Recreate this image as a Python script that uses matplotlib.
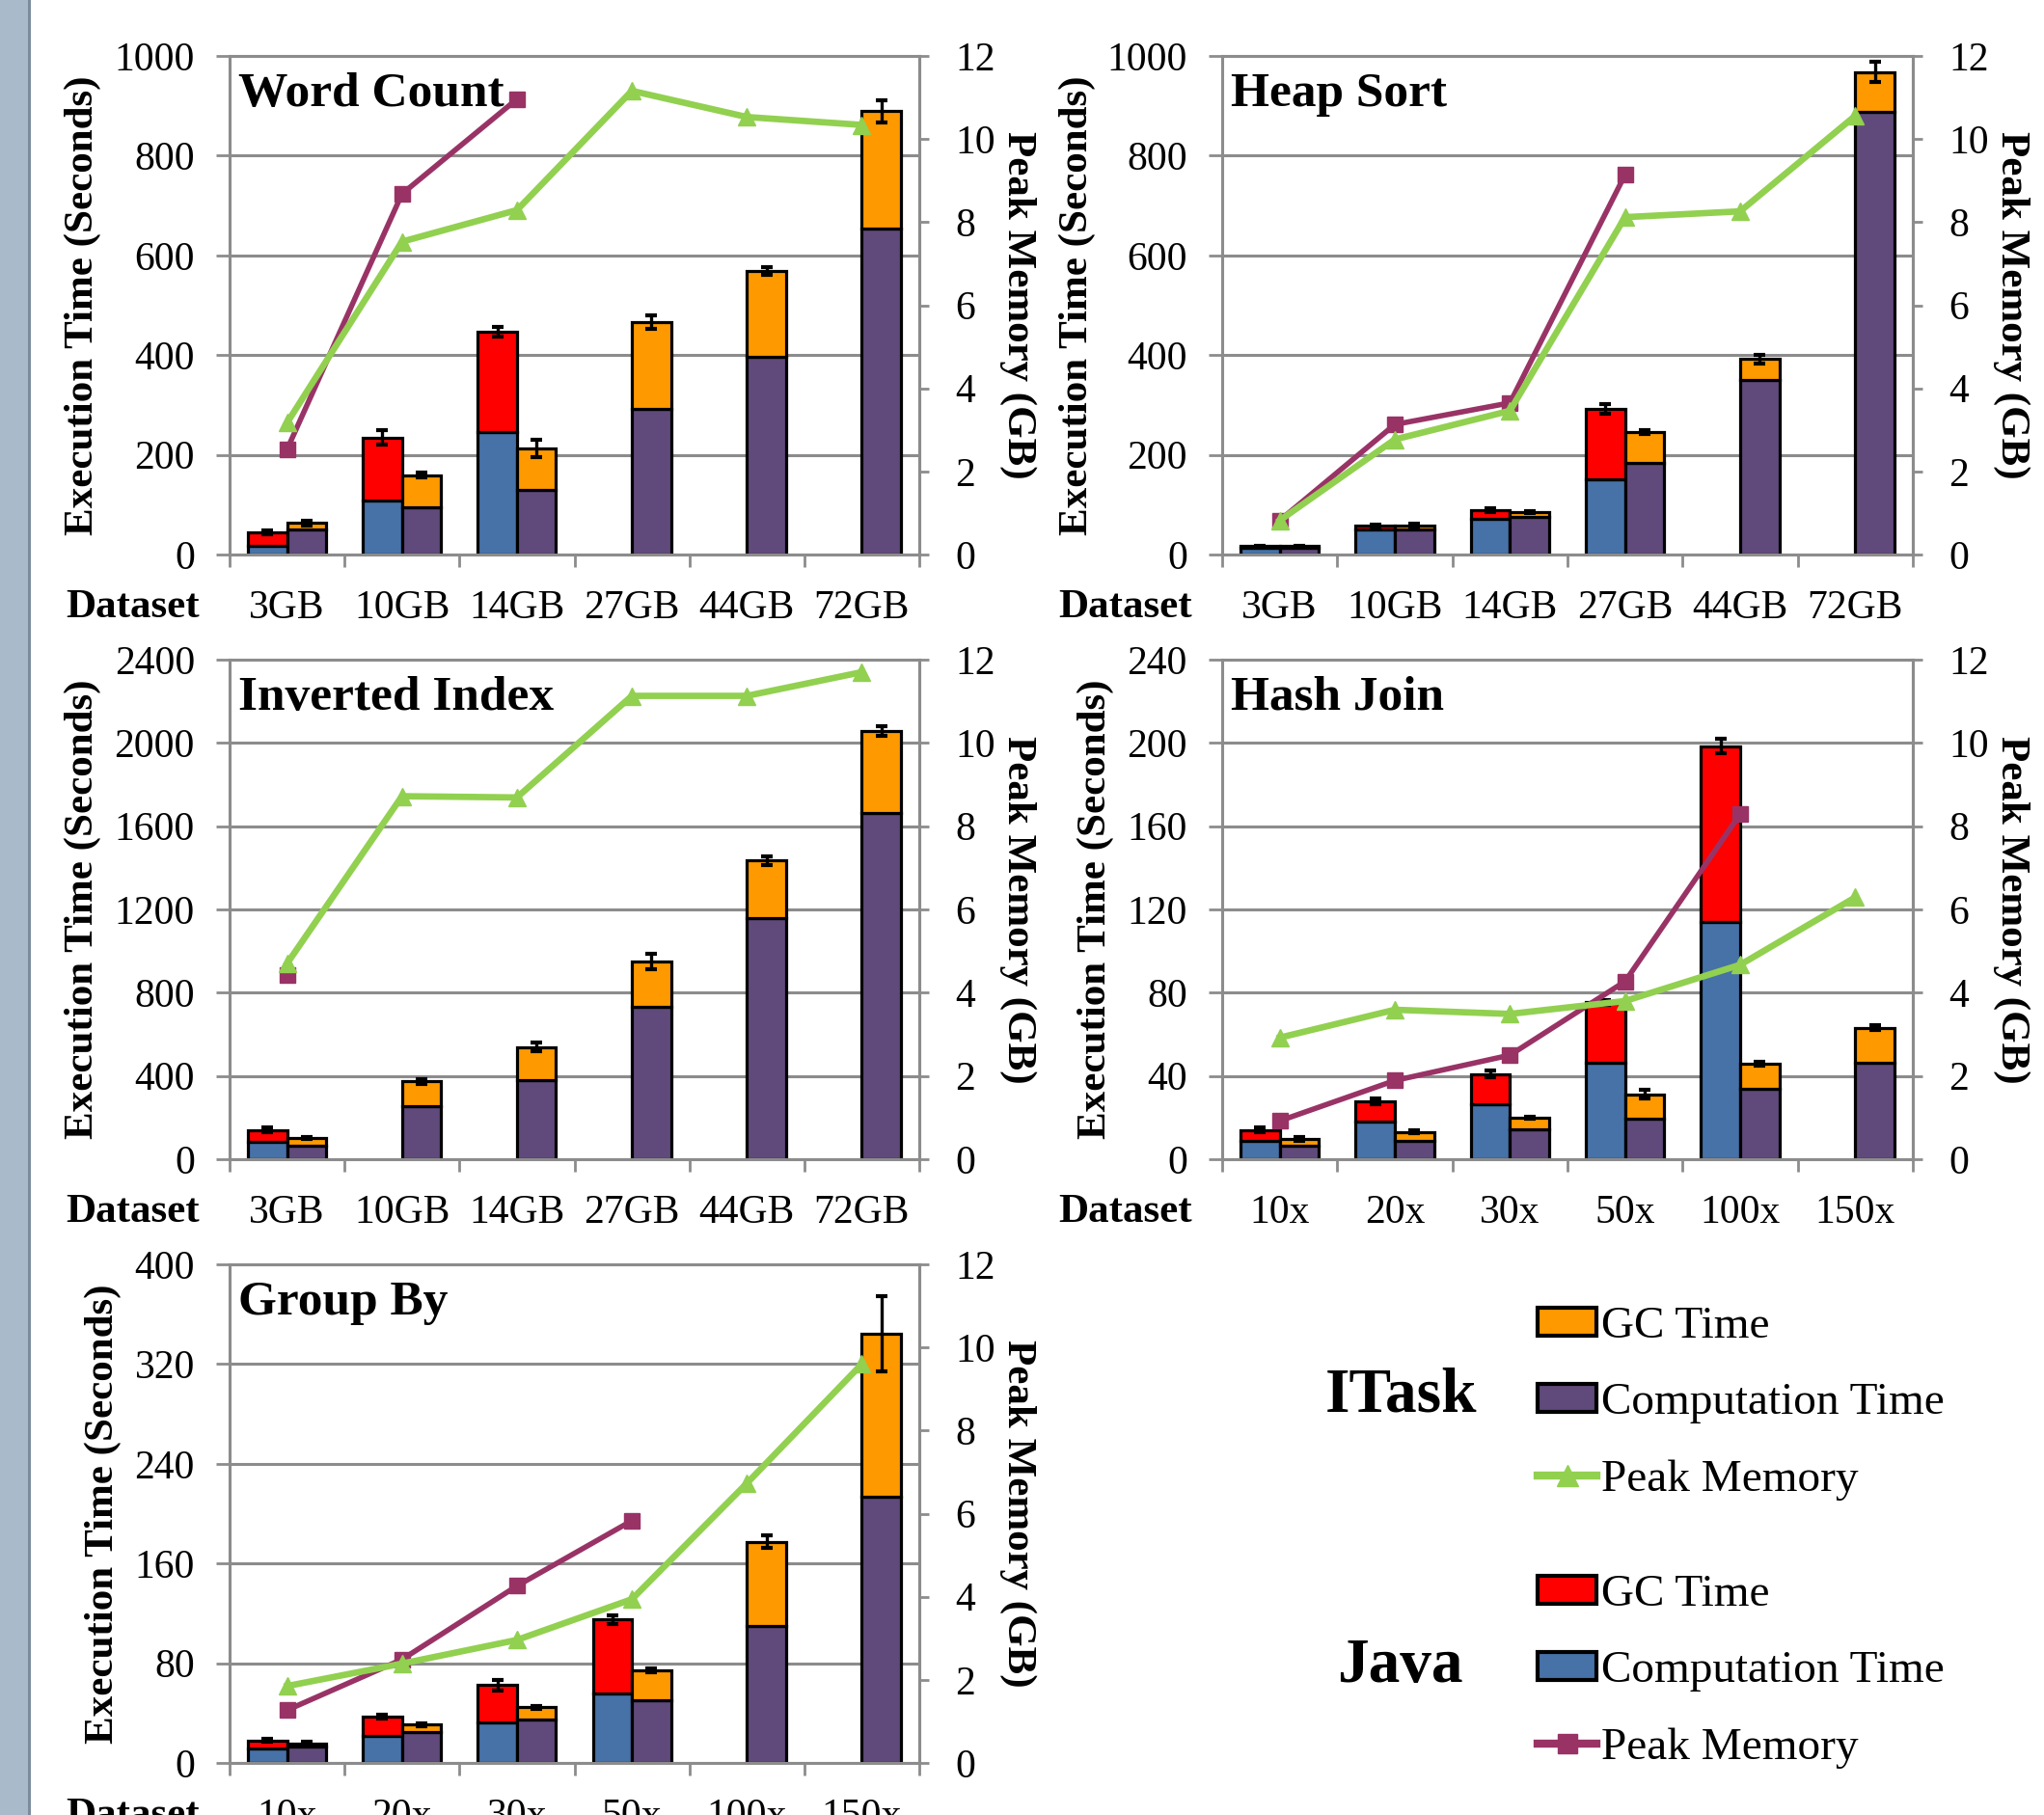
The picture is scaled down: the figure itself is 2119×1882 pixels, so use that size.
import numpy as np
import matplotlib
matplotlib.use('Agg')
import matplotlib.pyplot as plt
import matplotlib.transforms as mtransforms
from matplotlib.patches import Patch, Rectangle
from matplotlib.lines import Line2D

plt.rcParams['font.family'] = ['Liberation Serif', 'DejaVu Serif']

# ---- data ----
gb_cats = ['3GB', '10GB', '14GB', '27GB', '44GB', '72GB']
x_cats = ['10x', '20x', '30x', '50x', '100x', '150x']

# Word Count
wc_java_comp = [17, 108, 245, None, None, None]
wc_java_gc = [28, 127, 202, None, None, None]
wc_java_err = [4, 15, 10, None, None, None]
wc_itask_comp = [51, 95, 130, 292, 396, 653]
wc_itask_gc = [12, 64, 83, 174, 172, 236]
wc_itask_err = [5, 5, 18, 13, 8, 22]
wc_java_mem = [2.53, 8.68, 10.96, None, None, None]
wc_itask_mem = [3.17, 7.53, 8.29, 11.16, 10.53, 10.34]

# Heap Sort
hs_java_comp = [13, 50, 71, 150, None, None]
hs_java_gc = [4, 8, 18, 142, None, None]
hs_java_err = [1, 2, 3, 9, None, None]
hs_itask_comp = [13, 51, 75, 184, 350, 888]
hs_itask_gc = [4, 7, 10, 62, 42, 80]
hs_itask_err = [1, 3, 2, 4, 9, 20]
hs_java_mem = [0.82, 3.13, 3.65, 9.14, None, None]
hs_itask_mem = [0.82, 2.77, 3.46, 8.12, 8.26, 10.56]

# Inverted Index
ii_java_comp = [83, None, None, None, None, None]
ii_java_gc = [57, None, None, None, None, None]
ii_java_err = [12, None, None, None, None, None]
ii_itask_comp = [66, 253, 382, 732, 1157, 1664]
ii_itask_gc = [36, 120, 157, 217, 278, 392]
ii_itask_err = [6, 10, 22, 36, 20, 22]
ii_java_mem = [4.42, None, None, None, None, None]
ii_itask_mem = [4.70, 8.72, 8.69, 11.13, 11.13, 11.70]

# Hash Join
hj_java_comp = [8.9, 18.3, 26.5, 46.3, 114.2, None]
hj_java_gc = [5.1, 9.5, 14.5, 29.0, 84.2, None]
hj_java_err = [1.2, 1.2, 1.8, 1.0, 3.5, None]
hj_itask_comp = [6.6, 8.9, 14.2, 19.3, 33.9, 46.3]
hj_itask_gc = [3.2, 4.3, 5.7, 11.9, 11.9, 16.9]
hj_itask_err = [0.8, 0.8, 0.6, 2.0, 0.8, 1.0]
hj_java_mem = [0.92, 1.89, 2.50, 4.27, 8.29, None]
hj_itask_mem = [2.92, 3.59, 3.49, 3.80, 4.67, 6.29]

# Group By
gby_java_comp = [11.3, 21.7, 32.6, 55.8, None, None]
gby_java_gc = [6.8, 15.4, 29.7, 59.3, None, None]
gby_java_err = [1.0, 1.5, 4.0, 3.5, None, None]
gby_itask_comp = [12.8, 24.6, 35.0, 50.4, 110.0, 213.6]
gby_itask_gc = [2.9, 6.0, 9.5, 24.1, 67.4, 130.6]
gby_itask_err = [1.5, 1.0, 1.0, 1.5, 5.0, 30.0]
gby_java_mem = [1.27, 2.49, 4.26, 5.83, None, None]
gby_itask_mem = [1.85, 2.39, 2.96, 3.94, 6.73, 9.60]

# ---- style ----
W, H, DPI = 2119, 1882, 100
ORANGE = '#FF9900'
PURPLE = '#604A7B'
RED = '#FF0000'
BLUE = '#4672A8'
GREEN = '#92D050'
MAROON = '#993366'
GRAY = '#8C8C8C'
OFF, BW = 0.17, 0.34
TICK_PAD = 26


def px_rect(l, t, r, b):
    return [l / W, 1 - b / H, (r - l) / W, (b - t) / H]


def arr(v):
    return np.array(v, dtype=float)


def draw_panel(ax, cats, jc, jg, je, ic, ig, ie, jm, im, ymax, ystep, title, lab_px):
    x = np.arange(len(cats))
    jc, jg, je, ic, ig, ie = map(arr, (jc, jg, je, ic, ig, ie))
    ok = ~np.isnan(jc)
    ax.bar(x[ok] - OFF, jc[ok], BW, color=BLUE, edgecolor='black', lw=2.3, zorder=2)
    ax.bar(x[ok] - OFF, jg[ok], BW, bottom=jc[ok], color=RED, edgecolor='black', lw=2.3, zorder=2)
    ax.errorbar(x[ok] - OFF, (jc + jg)[ok], yerr=je[ok], fmt='none', ecolor='black',
                elinewidth=2.4, capsize=4.3, capthick=3, zorder=3)
    ok = ~np.isnan(ic)
    ax.bar(x[ok] + OFF, ic[ok], BW, color=PURPLE, edgecolor='black', lw=2.3, zorder=2)
    ax.bar(x[ok] + OFF, ig[ok], BW, bottom=ic[ok], color=ORANGE, edgecolor='black', lw=2.3, zorder=2)
    ax.errorbar(x[ok] + OFF, (ic + ig)[ok], yerr=ie[ok], fmt='none', ecolor='black',
                elinewidth=2.4, capsize=4.3, capthick=3, zorder=3)

    ax.set_xlim(-0.5, len(cats) - 0.5)
    ax.set_ylim(0, ymax)
    ax.set_yticks(np.arange(0, ymax + 1, ystep))
    ax.yaxis.grid(True, color=GRAY, lw=2.2)
    ax.set_axisbelow(True)
    ax.set_xticks(np.arange(-0.5, len(cats), 1))
    ax.set_xticklabels([])
    ax.set_xticks(x, cats, minor=True)
    ax.tick_params(axis='x', which='major', direction='out', length=9, width=2, color=GRAY)
    ax.tick_params(axis='x', which='minor', length=0, labelsize=30, pad=TICK_PAD)
    ax.tick_params(axis='y', direction='out', length=10, width=2, color=GRAY,
                   labelsize=30, pad=16)
    for s in ax.spines.values():
        s.set_color(GRAY)
        s.set_linewidth(2.2)

    ax.set_ylabel('Execution Time (Seconds)', fontsize=31, fontweight='bold')
    ax.yaxis.set_label_coords(-lab_px / 715.0, 0.5)
    ax.yaxis.label.set_va('center')

    ax.text(0.012, 0.923, title, transform=ax.transAxes, fontsize=37,
            fontweight='bold', va='center', ha='left')
    tr = mtransforms.offset_copy(ax.transAxes, fig=ax.figure, y=-TICK_PAD, units='points')
    ax.text(-31 / 715.0, 0, 'Dataset', transform=tr, fontsize=31, fontweight='bold',
            ha='right', va='top')

    tw = ax.twinx()
    tw.plot(x, arr(jm), color=MAROON, lw=4, marker='s', ms=11.5, zorder=4)
    tw.plot(x, arr(im), color=GREEN, lw=4.8, marker='^', ms=13.5, zorder=5)
    tw.set_ylim(0, 12)
    tw.set_yticks(np.arange(0, 13, 2))
    tw.tick_params(axis='y', direction='out', length=7, width=2, color=GRAY,
                   labelsize=30, pad=20)
    for k, s in tw.spines.items():
        s.set_visible(k == 'right')
        s.set_color(GRAY)
        s.set_linewidth(2.2)
    tw.set_ylabel('Peak Memory (GB)', fontsize=31, fontweight='bold', rotation=270)
    tw.yaxis.set_label_coords(1 + 102 / 715.0, 0.5)
    tw.yaxis.label.set_va('center')


fig = plt.figure(figsize=(W / DPI, H / DPI), dpi=DPI)
fig.patch.set_facecolor('white')

# grey strip on the left edge
fig.add_artist(Rectangle((0, 0), 32 / W, 1, transform=fig.transFigure,
                         facecolor='#A9BACB', edgecolor='none'))
fig.add_artist(Rectangle((29 / W, 0), 3 / W, 1, transform=fig.transFigure,
                         facecolor='#7D8C9C', edgecolor='none'))

ax1 = fig.add_axes(px_rect(238, 58, 953, 575))
draw_panel(ax1, gb_cats, wc_java_comp, wc_java_gc, wc_java_err, wc_itask_comp,
           wc_itask_gc, wc_itask_err, wc_java_mem, wc_itask_mem, 1000, 200,
           'Word Count', 152)

ax2 = fig.add_axes(px_rect(1267, 58, 1983, 575))
draw_panel(ax2, gb_cats, hs_java_comp, hs_java_gc, hs_java_err, hs_itask_comp,
           hs_itask_gc, hs_itask_err, hs_java_mem, hs_itask_mem, 1000, 200,
           'Heap Sort', 150)

ax3 = fig.add_axes(px_rect(238, 684, 953, 1202))
draw_panel(ax3, gb_cats, ii_java_comp, ii_java_gc, ii_java_err, ii_itask_comp,
           ii_itask_gc, ii_itask_err, ii_java_mem, ii_itask_mem, 2400, 400,
           'Inverted Index', 152)

ax4 = fig.add_axes(px_rect(1267, 684, 1983, 1202))
draw_panel(ax4, x_cats, hj_java_comp, hj_java_gc, hj_java_err, hj_itask_comp,
           hj_itask_gc, hj_itask_err, hj_java_mem, hj_itask_mem, 240, 40,
           'Hash Join', 131)

ax5 = fig.add_axes(px_rect(238, 1311, 953, 1828))
draw_panel(ax5, x_cats, gby_java_comp, gby_java_gc, gby_java_err, gby_itask_comp,
           gby_itask_gc, gby_itask_err, gby_java_mem, gby_itask_mem, 400, 80,
           'Group By', 131)

# ---- legends ----
leg_kw = dict(loc='center left', frameon=False, fontsize=34, borderpad=0,
              borderaxespad=0, handlelength=1.3, handleheight=0.57,
              handletextpad=0.1, labelspacing=0.78, numpoints=1)
itask_handles = [Patch(facecolor=ORANGE, edgecolor='black', lw=3),
                 Patch(facecolor=PURPLE, edgecolor='black', lw=3),
                 Line2D([], [], color=GREEN, lw=6, marker='^', ms=16)]
java_handles = [Patch(facecolor=RED, edgecolor='black', lw=3),
                Patch(facecolor=BLUE, edgecolor='black', lw=3),
                Line2D([], [], color=MAROON, lw=6, marker='s', ms=14)]
labels = ['GC Time', 'Computation Time', 'Peak Memory']
leg1 = fig.legend(itask_handles, labels, bbox_to_anchor=(1594 / W, 1 - 1455 / H), **leg_kw)
leg2 = fig.legend(java_handles, labels, bbox_to_anchor=(1594 / W, 1 - 1733 / H), **leg_kw)

fig.text(1452 / W, 1 - 1447 / H, 'ITask', fontsize=47, fontweight='bold',
         ha='center', va='center')
fig.text(1451 / W, 1 - 1728 / H, 'Java', fontsize=47, fontweight='bold',
         ha='center', va='center')

fig.savefig('out.png', dpi=DPI)
